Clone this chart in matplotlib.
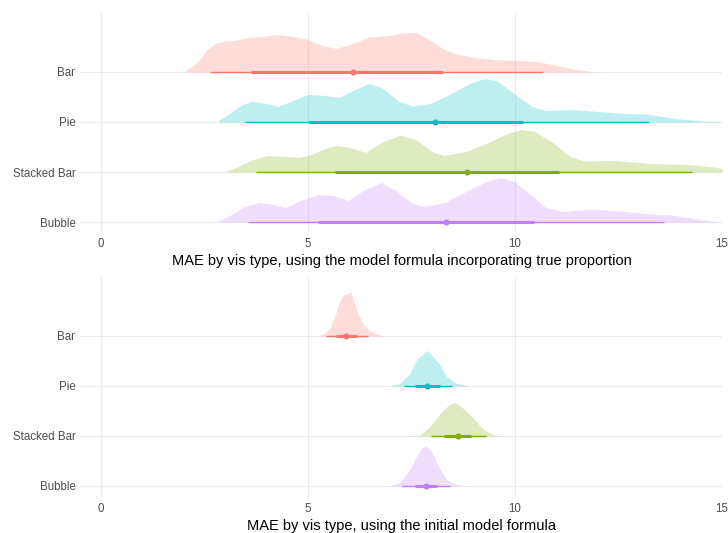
import numpy as np
import matplotlib.pyplot as plt

plt.rcParams['font.family'] = ['Liberation Sans', 'DejaVu Sans']

vis_types = ["Bar", "Pie", "Stacked Bar", "Bubble"]
colors = ["#F8766D", "#00BFC4", "#7CAE00", "#C77CFF"]
ticks = [0, 5, 10, 15]

# ---- model with true proportion: slab outlines (x, scaled density) ----
true_bar_x = [2.06, 2.30, 2.55, 2.76, 2.97, 3.23, 3.56, 3.90, 4.24, 4.58, 5.00, 5.34, 5.68, 6.01,
              6.44, 6.94, 7.28, 7.62, 7.96, 8.29, 8.63, 9.05, 9.48, 9.98, 10.49, 10.91, 11.33, 11.84, 12.43]
true_bar_d = [0.04, 0.17, 0.43, 0.57, 0.62, 0.63, 0.69, 0.71, 0.75, 0.72, 0.65, 0.53, 0.47, 0.55,
              0.69, 0.73, 0.78, 0.79, 0.63, 0.45, 0.35, 0.29, 0.25, 0.23, 0.21, 0.15, 0.07, 0.01, 0.0]

true_pie_x = [2.85, 3.14, 3.40, 3.65, 3.99, 4.28, 4.58, 5.00, 5.42, 5.76, 6.10, 6.48, 6.77, 7.20, 7.53,
              7.96, 8.46, 8.89, 9.27, 9.56, 9.98, 10.41, 10.74, 11.33, 12.01, 12.69, 13.19, 13.87, 14.54, 14.97]
true_pie_d = [0.04, 0.19, 0.34, 0.42, 0.37, 0.31, 0.41, 0.55, 0.53, 0.49, 0.64, 0.77, 0.69, 0.41, 0.32,
              0.37, 0.57, 0.77, 0.87, 0.82, 0.57, 0.31, 0.23, 0.25, 0.21, 0.17, 0.16, 0.07, 0.02, 0.005]

true_stk_x = [3.04, 3.31, 3.65, 4.03, 4.41, 4.79, 5.08, 5.42, 5.68, 6.01, 6.39, 6.77, 7.24, 7.62, 8.04,
              8.29, 8.80, 9.31, 9.81, 10.15, 10.49, 10.91, 11.33, 11.67, 12.43, 13.28, 14.12, 14.71, 15.0]
true_stk_d = [0.02, 0.11, 0.24, 0.33, 0.31, 0.29, 0.35, 0.47, 0.53, 0.49, 0.39, 0.59, 0.74, 0.64, 0.39,
              0.33, 0.41, 0.57, 0.77, 0.85, 0.81, 0.59, 0.31, 0.22, 0.23, 0.17, 0.15, 0.11, 0.07]

true_bub_x = [2.85, 3.14, 3.48, 3.82, 4.16, 4.45, 4.79, 5.25, 5.59, 5.97, 6.35, 6.77, 7.11, 7.53, 7.79,
              8.29, 8.89, 9.31, 9.65, 9.98, 10.41, 10.74, 11.17, 11.84, 12.52, 13.28, 13.78, 14.38, 14.88]
true_bub_d = [0.03, 0.14, 0.31, 0.39, 0.35, 0.29, 0.42, 0.55, 0.53, 0.43, 0.64, 0.79, 0.64, 0.37, 0.31,
              0.39, 0.64, 0.81, 0.89, 0.81, 0.53, 0.29, 0.21, 0.26, 0.22, 0.16, 0.14, 0.06, 0.0]

# median, 66% and 95% intervals
true_median = [6.10, 8.08, 8.84, 8.34]
true_66 = [(3.62, 8.27), (5.03, 10.19), (5.65, 11.06), (5.25, 10.45)]
true_95 = [(2.64, 10.68), (3.48, 13.23), (3.75, 14.27), (3.56, 13.61)]

# ---- initial model ----
init_bar_x = [5.19, 5.37, 5.53, 5.65, 5.77, 5.85, 5.97, 6.04, 6.10, 6.22, 6.34, 6.50, 6.74, 6.86]
init_bar_d = [0.0, 0.03, 0.15, 0.39, 0.69, 0.82, 0.85, 0.89, 0.71, 0.42, 0.23, 0.10, 0.02, 0.0]

init_pie_x = [6.98, 7.22, 7.46, 7.62, 7.75, 7.87, 7.99, 8.19, 8.35, 8.59, 8.91]
init_pie_d = [0.0, 0.05, 0.25, 0.52, 0.62, 0.71, 0.62, 0.42, 0.19, 0.05, 0.0]

init_stk_x = [7.34, 7.71, 7.95, 8.19, 8.40, 8.56, 8.75, 9.00, 9.24, 9.48, 9.80]
init_stk_d = [0.0, 0.02, 0.19, 0.45, 0.62, 0.67, 0.55, 0.35, 0.13, 0.02, 0.0]

init_bub_x = [6.96, 7.22, 7.46, 7.62, 7.75, 7.85, 7.99, 8.15, 8.35, 8.59, 8.83]
init_bub_d = [0.0, 0.07, 0.32, 0.59, 0.77, 0.81, 0.69, 0.39, 0.13, 0.03, 0.0]

init_median = [5.93, 7.87, 8.62, 7.84]
init_66 = [(5.68, 6.18), (7.58, 8.20), (8.29, 8.95), (7.58, 8.11)]
init_95 = [(5.43, 6.46), (7.32, 8.49), (7.97, 9.29), (7.28, 8.43)]


def halfeye(ax, slabs, medians, i66, i95, title, ylo):
    rows = [3, 2, 1, 0]
    for k, (xs, ds) in enumerate(slabs):
        y0 = rows[k]
        xs = np.array(xs)
        ds = np.array(ds)
        ax.fill_between(xs, y0, y0 + ds, color=colors[k], alpha=0.25, lw=0, zorder=2)
        ax.plot(i95[k], [y0, y0], color=colors[k], lw=1.0, solid_capstyle="butt", zorder=3)
        ax.plot(i66[k], [y0, y0], color=colors[k], lw=2.2, solid_capstyle="butt", zorder=3)
        ax.plot(medians[k], y0, "o", color=colors[k], ms=4.4, mec="none", zorder=4)

    ax.set_xlim(-0.48, 15.0)
    ax.set_ylim(ylo, 4.18)
    ax.set_xticks(ticks)
    ax.set_yticks(rows)
    ax.set_yticklabels(vis_types)
    ax.grid(True, color="#EBEBEB", lw=0.8)
    ax.set_axisbelow(True)
    for s in ax.spines.values():
        s.set_visible(False)
    ax.tick_params(length=0, labelsize=8.3, labelcolor="#4D4D4D", pad=4)
    ax.set_xlabel(title, fontsize=10.5, color="black", labelpad=3)


fig = plt.figure(figsize=(7.28, 5.33), dpi=100)
ax1 = fig.add_axes([81 / 728, 1 - 232 / 533, 641 / 728, 219 / 533])
ax2 = fig.add_axes([81 / 728, 1 - 497 / 533, 641 / 728, 220 / 533])

halfeye(ax1,
        [(true_bar_x, true_bar_d), (true_pie_x, true_pie_d),
         (true_stk_x, true_stk_d), (true_bub_x, true_bub_d)],
        true_median, true_66, true_95,
        "MAE by vis type, using the model formula incorporating true proportion", -0.2)
halfeye(ax2,
        [(init_bar_x, init_bar_d), (init_pie_x, init_pie_d),
         (init_stk_x, init_stk_d), (init_bub_x, init_bub_d)],
        init_median, init_66, init_95,
        "MAE by vis type, using the initial model formula", -0.22)

fig.savefig("out.png", dpi=100)
